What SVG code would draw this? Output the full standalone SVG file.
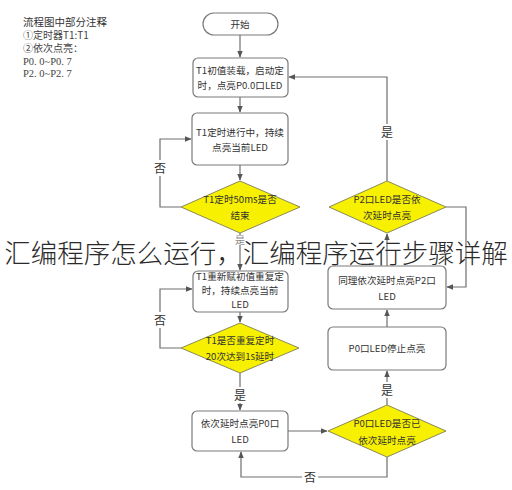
<svg xmlns="http://www.w3.org/2000/svg" width="512" height="490" viewBox="0 0 512 490">
<style>
.box{fill:#fff;stroke:#7a7a7a;stroke-width:1.2}
.dia{fill:#f7f000;stroke:#8a8a5a;stroke-width:1}
.t{font-family:"Noto Sans CJK SC","Noto Sans",sans-serif;font-size:9.6px;fill:#333;text-anchor:middle}
.lbl{font-family:"Noto Sans CJK SC",sans-serif;font-size:12px;fill:#333;text-anchor:middle}
.ln{fill:none;stroke:#6e6e6e;stroke-width:1.2}
.note{font-family:"Liberation Serif","Noto Sans CJK SC",serif;font-size:10.5px;fill:#444}
</style>
<defs>
<marker id="ah" viewBox="0 0 10 10" refX="9" refY="5" markerWidth="6" markerHeight="6" orient="auto"><path d="M0,1 L10,5 L0,9 z" fill="#555"/></marker>
</defs>
<rect width="512" height="490" fill="#fff"/>
<g id="notes">
<text x="23" y="26" style="font-family:'Noto Sans CJK SC',sans-serif;font-size:10.5px;fill:#333">流程图中部分注释</text>
<text x="23" y="39" class="note" style="font-family:'Noto Sans CJK SC',serif;font-size:10px">①定时器T1:T1</text>
<text x="23" y="52" class="note" style="font-family:'Noto Sans CJK SC',serif;font-size:10px">②依次点亮：</text>
<text x="23" y="65" class="note">P0. 0~P0. 7</text>
<text x="23" y="77" class="note">P2. 0~P2. 7</text>
</g>
<g id="connectors">
<path class="ln" d="M240,35 V57" marker-end="url(#ah)"/>
<path class="ln" d="M240,97 V112" marker-end="url(#ah)"/>
<path class="ln" d="M240,165 V180" marker-end="url(#ah)"/>
<path class="ln" d="M181,207 H160 V139 H191" marker-end="url(#ah)"/>
<path class="ln" d="M240,233 V270" marker-end="url(#ah)"/>
<path class="ln" d="M240,312 V322" marker-end="url(#ah)"/>
<path class="ln" d="M181,348 H160 V289 H192" marker-end="url(#ah)"/>
<path class="ln" d="M240,373 V410" marker-end="url(#ah)"/>
<path class="ln" d="M288,431 H327" marker-end="url(#ah)"/>
<path class="ln" d="M387,457 V477 H241 V452" marker-end="url(#ah)"/>
<path class="ln" d="M387,405 V371" marker-end="url(#ah)"/>
<path class="ln" d="M387,327 V310" marker-end="url(#ah)"/>
<path class="ln" d="M387,266 V234" marker-end="url(#ah)"/>
<path class="ln" d="M446,207 H466 V287 H447" marker-end="url(#ah)"/>
<path class="ln" d="M387,181 V77 H289" marker-end="url(#ah)"/>
<rect x="153" y="160" width="14" height="16" fill="#fff"/>
<text x="160" y="173" class="lbl">否</text>
<rect x="153" y="312" width="14" height="16" fill="#fff"/>
<text x="160" y="325" class="lbl">否</text>
<rect x="380" y="124" width="14" height="16" fill="#fff"/>
<text x="387" y="137" class="lbl">是</text>
<rect x="234" y="235" width="12" height="10" fill="#fff"/>
<text x="240" y="244" class="lbl" style="font-size:10px;fill:#888">是</text>
<rect x="233" y="387" width="14" height="16" fill="#fff"/>
<text x="240" y="400" class="lbl">是</text>
<rect x="380" y="382" width="14" height="16" fill="#fff"/>
<text x="387" y="395" class="lbl">是</text>
<rect x="302" y="470" width="16" height="16" fill="#fff"/>
<text x="310" y="482" class="lbl">否</text>
</g>
<g id="start"><rect x="203" y="13" width="75" height="22" rx="11" class="box"/><text x="240" y="28" class="t">开始</text></g>
<g id="n1"><rect x="193" y="58" width="95" height="39" rx="5" class="box"/><text x="240" y="74" class="t">T1初值装载，启动定</text><text x="240" y="89" class="t">时，点亮P0.0口LED</text></g>
<g id="n2"><rect x="192" y="113" width="96" height="52" rx="5" class="box"/><text x="240" y="136" class="t">T1定时进行中，持续</text><text x="240" y="151" class="t">点亮当前LED</text></g>
<g id="d1"><polygon points="240,181 300,207 240,233 181,207" class="dia"/><text x="240" y="203" class="t">T1定时50ms是否</text><text x="240" y="219" class="t">结束</text></g>
<g id="n3"><rect x="193" y="271" width="95" height="41" rx="5" class="box"/><text x="240" y="280" class="t">T1重新赋初值重复定</text><text x="240" y="294" class="t">时，持续点亮当前</text><text x="240" y="308" class="t">LED</text></g>
<g id="d2"><polygon points="240,323 299,348 240,373 181,348" class="dia"/><text x="240" y="344" class="t">T1是否重复定时</text><text x="240" y="360" class="t">20次达到1s延时</text></g>
<g id="n4"><rect x="192" y="411" width="96" height="40" rx="5" class="box"/><text x="240" y="427" class="t">依次延时点亮P0口</text><text x="240" y="443" class="t">LED</text></g>
<g id="d3"><polygon points="387,405 446,431 387,457 328,431" class="dia"/><text x="387" y="427" class="t">P0口LED是否已</text><text x="387" y="444" class="t">依次延时点亮</text></g>
<g id="n5"><rect x="328" y="327" width="118" height="43" rx="5" class="box"/><text x="387" y="352" class="t">P0口LED停止点亮</text></g>
<g id="n6"><rect x="328" y="266" width="118" height="43" rx="5" class="box"/><text x="387" y="284" class="t">同理依次延时点亮P2口</text><text x="387" y="300" class="t">LED</text></g>
<g id="d4"><polygon points="387,181 446,207 387,233 329,207" class="dia"/><text x="387" y="203" class="t">P2口LED是否依</text><text x="387" y="219" class="t">次延时点亮</text></g>
<text x="256" y="263" style="font-family:'Noto Sans CJK SC',sans-serif;font-size:26.5px;font-weight:300;fill:#2a2a2a;text-anchor:middle">汇编程序怎么运行，汇编程序运行步骤详解</text>
</svg>
